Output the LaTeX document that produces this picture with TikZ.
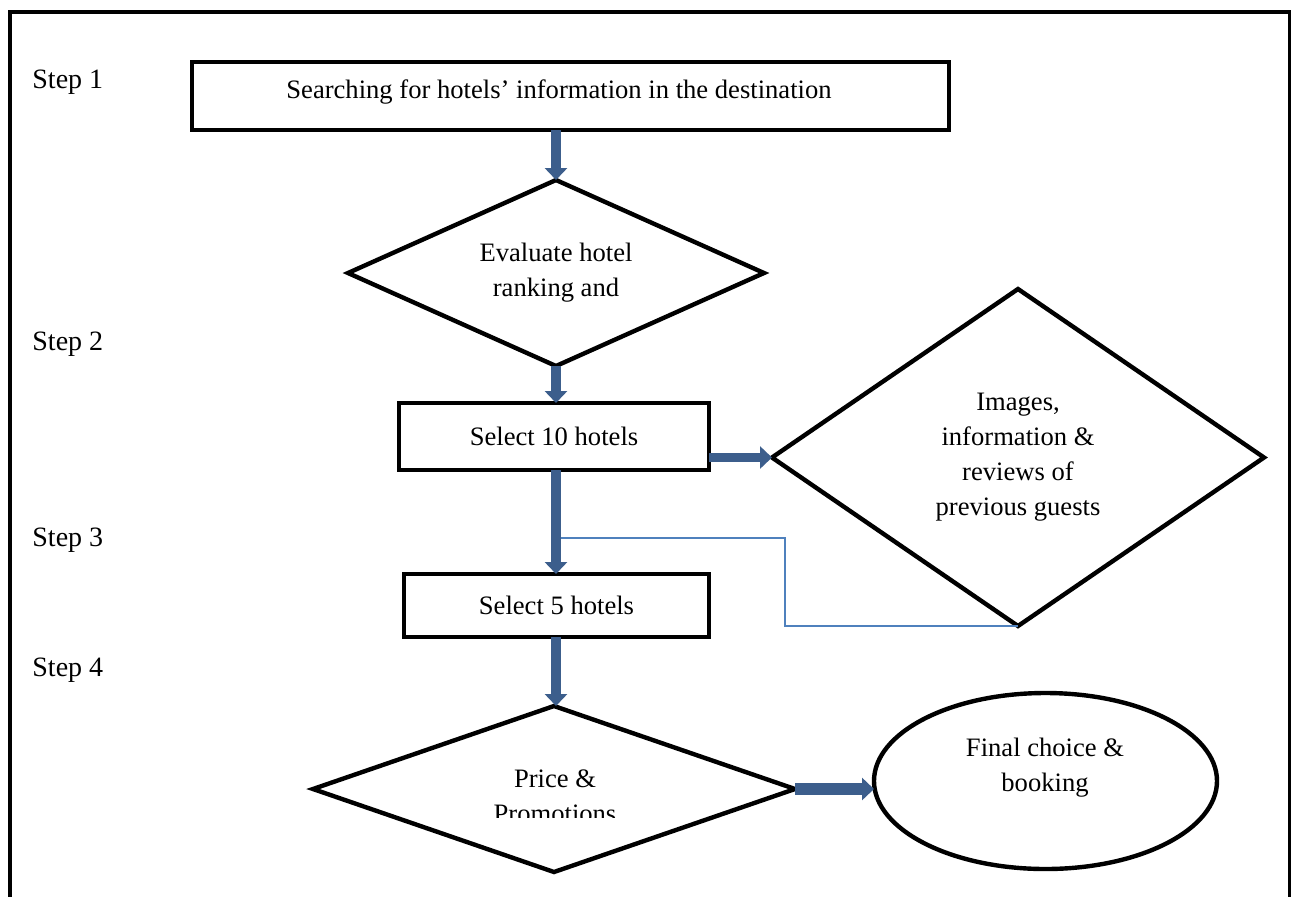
\documentclass[tikz,border=0pt]{standalone}
\usepackage{fontspec}
\setmainfont{Liberation Serif}
\usetikzlibrary{shapes.geometric,arrows.meta}
\definecolor{arrowblue}{RGB}{60,94,140}
\definecolor{lineblue}{RGB}{79,129,189}
\begin{document}
\begin{tikzpicture}[x=0.5pt,y=-0.5pt,
  txt/.style={font=\fontsize{13.3pt}{17.5pt}\selectfont,align=center,inner sep=0pt},
  steplabel/.style={font=\fontsize{14pt}{17pt}\selectfont,anchor=west,inner sep=0pt},
  boxnode/.style={draw,line width=2pt,rectangle,inner sep=0pt,outer sep=0pt,
    font=\fontsize{13.3pt}{17.5pt}\selectfont,align=center},
  dnode/.style={draw,line width=2.2pt,diamond,inner sep=0pt,outer sep=0pt,
    font=\fontsize{13.3pt}{17.5pt}\selectfont,align=center},
  flowarrow/.style={draw=arrowblue,line width=4.8pt,-{Triangle[width=11pt,length=6pt]},arrowblue},
  thinline/.style={draw=lineblue,line width=1pt}
]
\useasboundingbox (0,0) rectangle (1291,896);
\fill[white] (0,0) rectangle (1291,896);
% outer frame
\draw[line width=2pt] (10,910) -- (10,12) -- (1290,12) -- (1290,910);

\coordinate (col) at (556,0);

% step labels
\node[steplabel] (s1) at (32,82) {Step 1};
\node[steplabel] (s2) at (32,344) {Step 2};
\node[steplabel] (s3) at (32,540) {Step 3};
\node[steplabel] (s4) at (32,670) {Step 4};

% shapes
\node[boxnode,minimum width=378.5pt,minimum height=34pt] (b1) at (570.5,96) {};
\node[txt] (b1t) at (559,92) {Searching for hotels’ information in the destination};

\node[dnode,aspect=2.24,minimum width=208pt,minimum height=93pt] (d1) at (556,273) {Evaluate hotel\\ranking and};

\node[boxnode,minimum width=155pt,minimum height=33.5pt] (b2) at (554,436.5) {Select 10 hotels};

\node[dnode,minimum width=246pt,minimum height=168.5pt] (d2) at (1018,457.5) {Images,\\information \&\\reviews of\\previous guests};

\node[boxnode,minimum width=152.5pt,minimum height=31.5pt] (b3) at (556.5,605.5) {Select 5 hotels};

\node[dnode,minimum width=241pt,minimum height=83pt] (d3) at (554,789) {};
\begin{scope}
  \clip (300,700) rectangle (800,817);
  \node[txt] (d3t) at (555,796) {Price \&\\Promotions};
\end{scope}

\node[draw,ellipse,line width=2.2pt,inner sep=0pt,outer sep=0pt,minimum width=171.5pt,minimum height=88pt] (e) at (1045.5,781) {};
\node[txt] (et) at (1045,767.5) {Final choice \&\\booking};

% thin feedback line
\coordinate (tb) at (785,538);
\draw[thinline] (d2.south) -| (tb) -- (tb -| col);

% arrows
\draw[flowarrow] (b1.south -| col) -- (d1.north);
\draw[flowarrow] (d1.south) -- (b2.north -| col);
\draw[flowarrow] (b2.east |- d2.west) -- (d2.west);
\draw[flowarrow] (b2.south -| col) -- (b3.north -| col);
\draw[flowarrow] (b3.south -| col) -- (d3.north -| col);
\draw[flowarrow,line width=6pt] (d3.east) -- (e.west |- d3.east);
\end{tikzpicture}
\end{document}
